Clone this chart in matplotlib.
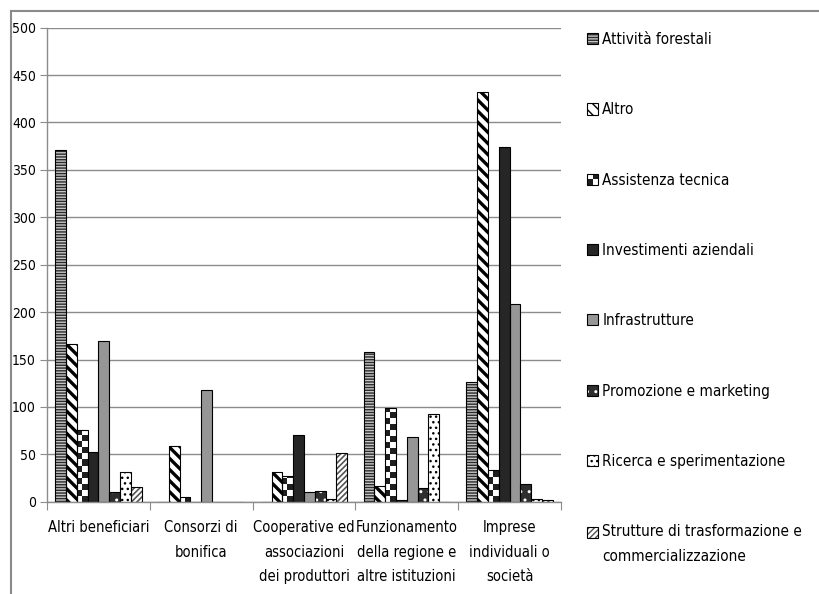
import numpy as np
import matplotlib
matplotlib.use('Agg')
import matplotlib.pyplot as plt
from matplotlib.colors import ListedColormap
from matplotlib.lines import Line2D
from matplotlib.patches import Rectangle
from matplotlib.legend_handler import HandlerBase, HandlerTuple

plt.rcParams['font.family'] = ['DejaVu Sans']
plt.rcParams['font.stretch'] = 'condensed'
plt.rcParams['hatch.linewidth'] = 1.0

categories = ['Altri beneficiari', 'Consorzi di\nbonifica', 'Cooperative ed\nassociazioni\ndei produttori',
              'Funzionamento\ndella regione e\naltre istituzioni', 'Imprese\nindividuali o\nsocietà']
series = ['Attività forestali', 'Altro', 'Assistenza tecnica', 'Investimenti aziendali', 'Infrastrutture',
          'Promozione e marketing', 'Ricerca e sperimentazione',
          'Strutture di trasformazione e\ncommercializzazione']

attivita_forestali = [371, 0, 0, 158, 126]
altro = [166, 59, 31, 17, 432]
assistenza_tecnica = [76, 5, 27, 99, 33]
investimenti_aziendali = [52, 0, 70, 2, 374]
infrastrutture = [169, 118, 10, 68, 209]
promozione_marketing = [10, 0, 11, 14, 19]
ricerca_sperimentazione = [31, 0, 3, 92, 3]
strutture_trasformazione = [15, 0, 51, 0, 2]

values = [attivita_forestali, altro, assistenza_tecnica, investimenti_aziendali, infrastrutture,
          promozione_marketing, ricerca_sperimentazione, strutture_trasformazione]

# fill, hatch, hatch colour, hatch width  (None hatch = plain fill, 'checker' = drawn texture)
styles = [
    ('#c6c6c6', '------', '#2a2a2a', 1.0),
    ('white', '\\\\\\', 'black', 2.4),
    ('white', 'checker', None, None),
    ('#262626', None, None, None),
    ('#969696', None, None, None),
    ('#2e2e2e', '..', 'white', 1.0),
    ('white', '...', 'black', 1.0),
    ('white', '//////', '#555555', 1.2),
]

GRID = '#8c8c8c'
BW = 0.105


class CheckerHandler(HandlerBase):
    def create_artists(self, legend, orig_handle, xdescent, ydescent, width, height, fontsize, trans):
        x0, y0 = -xdescent, -ydescent
        arts = [Rectangle((x0, y0), width, height, fc='white', ec='none', transform=trans)]
        for i in range(2):
            for j in range(2):
                if (i + j) % 2 == 0:
                    arts.append(Rectangle((x0 + i * width / 2, y0 + j * height / 2), width / 2, height / 2,
                                          fc='#1e1e1e', ec='none', transform=trans))
        arts.append(Rectangle((x0, y0), width, height, fc='none', ec='black', lw=0.8, transform=trans))
        return arts


class RaisedTuple(HandlerTuple):
    """Tuple handler whose swatch sits next to the first line of a two-line label."""
    def __init__(self, shift, **kw):
        super().__init__(**kw)
        self.shift = shift

    def create_artists(self, legend, orig_handle, xdescent, ydescent, width, height, fontsize, trans):
        return super().create_artists(legend, orig_handle, xdescent, ydescent - self.shift,
                                      width, height, fontsize, trans)


fig = plt.figure(figsize=(8.19, 5.94), dpi=100)
ax = fig.add_axes([47 / 819, 1 - 501.7 / 594, (561 - 47) / 819, (501.7 - 27.7) / 594])
ax.set_xlim(-0.5, 4.5)
ax.set_ylim(0, 500)

x = np.arange(len(categories))
# checker square height in data units (~6 px)
sq = 6 * 500 / ((501.7 - 27.7))

handles = []
checker_proxy = None
for i, (vals, (fc, hatch, hc, hw)) in enumerate(zip(values, styles)):
    pos = x + (i - 3.5) * BW
    if hatch in (None, 'checker'):
        fill = ax.bar(pos, vals, BW, color=fc, linewidth=0, zorder=1)
    else:
        fill = ax.bar(pos, vals, BW, color=fc, edgecolor=hc, hatch=hatch, linewidth=0, zorder=1)
        for p in fill:
            if hasattr(p, 'set_hatch_linewidth'):
                p.set_hatch_linewidth(hw)
    edge = ax.bar(pos, vals, BW, color='none', edgecolor='black', linewidth=0.8, zorder=1.5)
    if hatch == 'checker':
        for r in fill:
            h = r.get_height()
            if h <= 0:
                continue
            nrows = int(np.ceil(h / sq))
            grid = np.add.outer(np.arange(nrows), np.arange(2)) % 2
            x0 = r.get_x()
            img = ax.imshow(grid, cmap=ListedColormap(['white', '#1e1e1e']), origin='lower',
                            extent=(x0, x0 + BW, 0, nrows * sq), interpolation='nearest',
                            aspect='auto', zorder=1.2)
            img.set_clip_path(r)
        checker_proxy = fill
        handles.append(fill)
    else:
        handles.append((fill, edge))

ax.set_xlim(-0.5, 4.5)
ax.set_ylim(0, 500)
ax.set_aspect('auto')

ax.set_yticks(np.arange(0, 501, 50))
ax.yaxis.grid(True, color=GRID, linewidth=1)
ax.set_axisbelow(True)
ax.set_xticks(np.arange(-0.5, 5, 1))
ax.set_xticklabels([])
ax.set_xticks(x, minor=True)
ax.set_xticklabels(categories, minor=True, fontsize=10.5, linespacing=1.82)
ax.tick_params(axis='x', which='minor', length=0, pad=13)
ax.tick_params(axis='x', which='major', length=6, color=GRID)
ax.tick_params(axis='y', length=5, color=GRID, labelsize=10, pad=3)

for s in ('top', 'right'):
    ax.spines[s].set_visible(False)
for s in ('left', 'bottom'):
    ax.spines[s].set_color(GRID)
    ax.spines[s].set_linewidth(1)

leg = ax.legend(handles, series, loc='upper left', bbox_to_anchor=(587 / 819, 1 - 32 / 594),
                bbox_transform=fig.transFigure, frameon=False, fontsize=11,
                handlelength=0.75, handleheight=0.75, handletextpad=0.25,
                labelspacing=3.62, borderaxespad=0, borderpad=0,
                handler_map={checker_proxy: CheckerHandler(), handles[-1]: RaisedTuple(9)})
for t in leg.get_texts():
    t.set_linespacing(1.8)

# outer chart frame
fig.add_artist(Line2D([10.5 / 819, 1], [1 - 10.5 / 594] * 2, transform=fig.transFigure, color='#8a8a8a', lw=1.5))
fig.add_artist(Line2D([10.5 / 819] * 2, [0, 1 - 10.5 / 594], transform=fig.transFigure, color='#8a8a8a', lw=1.5))

fig.savefig('out.png', dpi=100)
